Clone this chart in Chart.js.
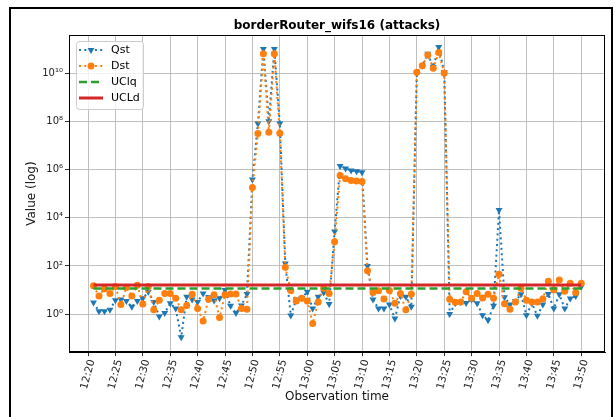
<!DOCTYPE html>
<html>
<head>
<meta charset="utf-8">
<script src="https://cdn.jsdelivr.net/npm/chart.js@4.4.0/dist/chart.umd.min.js"></script>
<style>
  html, body { margin: 0; padding: 0; background: #fff; }
  #wrap { position: relative; width: 615px; height: 417px; }
  #frame { position: absolute; left: 9px; top: 7px; width: 604px; height: 420px; border: 2px solid #000; box-sizing: border-box; pointer-events: none; }
</style>
</head>
<body>
<div id="wrap">
  <canvas id="chart" width="615" height="417"></canvas>
  <div id="frame"></div>
</div>
<script>
// x ticks (every 5 minutes) and first sample time; one sample per minute
const tickLabels = ['12:20', '12:25', '12:30', '12:35', '12:40', '12:45', '12:50', '12:55', '13:00',
    '13:05', '13:10', '13:15', '13:20', '13:25', '13:30', '13:35', '13:40', '13:45', '13:50'];
const firstSample = '12:21';
const yTickValues = [1, 1e2, 1e4, 1e6, 1e8, 1e10];

const qst = [3.0, 1.3, 1.3, 1.5, 3.8, 4.0, 3.5, 2.0, 3.5, 4.5,
    8.5, 3.2, 0.8, 1.1, 2.8, 1.7, 0.11, 5.2, 4.0, 3.2,
    7.2, 5.0, 3.7, 4.5, 10, 2.2, 1.1, 2.3, 6.8, 3.8e5,
    8e7, 1e11, 1e8, 1e11, 8e7, 125, 0.87, 4.0, 4.5, 8.5,
    1.7, 5.2, 7.9, 2.6, 2700, 1.4e6, 1.1e6, 9.1e5, 8.5e5, 7.6e5,
    100, 4.0, 1.7, 1.7, 2.5, 0.66, 5.6, 5.2, 2.0, 1.1e10,
    2e10, 6.3e10, 1.8e10, 1.2e11, 1.1e10, 1.0, 2.8, 3.2, 2.9, 4.0,
    2.8, 0.9, 0.56, 2.2, 2.1e4, 5.0, 2.5, 3.5, 6.6, 0.9,
    2.8, 0.85, 2.5, 6.8, 1.7, 6.6, 1.7, 4.4, 5.6, 13.8];

const dst = [15, 5.6, 11.2, 7.2, 14, 2.5, 12.6, 5.6, 15.8, 2.6,
    14, 1.5, 3.8, 7.2, 7.2, 4.5, 1.5, 2.3, 6.6, 1.7,
    0.52, 4.1, 6.3, 0.72, 6.3, 6.8, 6.8, 1.7, 1.6, 1.8e5,
    3.1e7, 6.3e10, 3.5e7, 6.3e10, 3.2e7, 89, 9.5, 3.5, 4.5, 3.5,
    0.41, 3.2, 11.7, 7.2, 1000, 5.6e5, 4.1e5, 3.5e5, 3.3e5, 3.2e5,
    63, 7.9, 9.3, 4.2, 9.5, 2.8, 7.2, 1.5, 6.8, 1.07e10,
    2e10, 5.6e10, 1.6e10, 7.1e10, 1e10, 4.1, 3.1, 3.2, 8.5, 4.5,
    7.1, 4.7, 6.6, 4.5, 45, 2.7, 1.6, 3.2, 11.7, 3.8,
    3.2, 3.2, 4.3, 23, 10, 26, 8.9, 19, 7.9, 19];

const uclQ = 11.5;
const uclD = 16;

// minutes since the first tick
function toMin(label) {
    const [h, m] = label.split(':').map(Number);
    const [h0, m0] = tickLabels[0].split(':').map(Number);
    return (h * 60 + m) - (h0 * 60 + m0);
}
const t0 = toMin(firstSample);
const asPoints = arr => arr.map((v, i) => ({ x: t0 + i, y: v }));
const tEnd = t0 + qst.length - 1;

const sup = { '0': '⁰', '1': '¹', '2': '²', '3': '³', '4': '⁴', '5': '⁵', '6': '⁶', '7': '⁷', '8': '⁸', '9': '⁹', '-': '⁻' };
const fmtPow = v => '10' + String(Math.round(Math.log10(v))).split('').map(c => sup[c]).join('');

Chart.defaults.font.family = '"DejaVu Sans", sans-serif';
Chart.defaults.color = '#111';

const frameBox = {
    id: 'frameBox',
    afterDatasetsDraw(chart) {
        const { ctx, chartArea: a } = chart;
        ctx.save();
        ctx.strokeStyle = '#000';
        ctx.lineWidth = 1;
        ctx.strokeRect(Math.round(a.left) + 0.5, Math.round(a.top) + 0.5,
            Math.round(a.right - a.left) - 1, Math.round(a.bottom - a.top) - 1);
        ctx.restore();
    }
};

const boxLegend = {
    id: 'boxLegend',
    afterDraw(chart) {
        const { ctx, chartArea: a } = chart;
        const sets = chart.data.datasets;
        const x0 = Math.round(a.left) + 7, y0 = Math.round(a.top) + 6;
        ctx.save();
        ctx.fillStyle = 'rgba(255,255,255,0.8)';
        ctx.strokeStyle = '#cccccc';
        ctx.lineWidth = 1;
        ctx.beginPath();
        ctx.roundRect(x0 + 0.5, y0 + 0.5, 67, 68, 3);
        ctx.fill();
        ctx.stroke();
        sets.forEach((ds, i) => {
            const y = y0 + 9 + i * 16;
            ctx.setLineDash(ds.borderDash || []);
            ctx.strokeStyle = ds.borderColor;
            ctx.lineWidth = ds.borderWidth;
            ctx.beginPath();
            ctx.moveTo(x0 + 3, y);
            ctx.lineTo(x0 + 27, y);
            ctx.stroke();
            ctx.setLineDash([]);
            if (ds.pointRadius > 0) {
                ctx.fillStyle = ds.pointBackgroundColor;
                Chart.helpers.drawPoint(ctx, {
                    pointStyle: ds.pointStyle, rotation: ds.pointRotation || 0,
                    radius: ds.pointRadius, borderWidth: 0
                }, x0 + 15, y);
            }
            ctx.fillStyle = '#000';
            ctx.font = '11px "DejaVu Sans"';
            ctx.textBaseline = 'middle';
            ctx.fillText(ds.label, x0 + 35, y + 0.5);
        });
        ctx.restore();
    }
};

new Chart(document.getElementById('chart'), {
    type: 'line',
    data: {
        datasets: [{
            label: 'Qst',
            data: asPoints(qst),
            borderColor: '#1f77b4',
            borderWidth: 2,
            borderDash: [2, 3.3],
            pointStyle: 'triangle',
            pointRotation: 180,
            pointRadius: 4,
            pointBorderWidth: 0,
            pointBackgroundColor: '#1f77b4',
            order: 3
        }, {
            label: 'Dst',
            data: asPoints(dst),
            borderColor: '#ff7f0e',
            borderWidth: 2,
            borderDash: [2, 3.3],
            pointStyle: 'circle',
            pointRadius: 3.5,
            pointBorderWidth: 0,
            pointBackgroundColor: '#ff7f0e',
            order: 2
        }, {
            label: 'UClq',
            data: [{ x: t0, y: uclQ }, { x: tEnd, y: uclQ }],
            borderColor: '#2ca02c',
            borderWidth: 2.5,
            borderDash: [8, 4],
            pointRadius: 0,
            order: 1
        }, {
            label: 'UCLd',
            data: [{ x: t0, y: uclD }, { x: tEnd, y: uclD }],
            borderColor: '#d62728',
            borderWidth: 3,
            pointRadius: 0,
            order: 0
        }]
    },
    options: {
        responsive: false,
        animation: false,
        layout: { padding: { left: 20, right: 10, top: 0, bottom: 7 } },
        elements: { line: { tension: 0, borderCapStyle: 'butt' } },
        plugins: {
            legend: { display: false },
            tooltip: { enabled: false },
            title: {
                display: true,
                text: 'borderRouter_wifs16 (attacks)',
                color: '#000',
                fullSize: false,
                font: { size: 12, weight: 'bold' },
                padding: { top: 19, bottom: 1.6 }
            }
        },
        scales: {
            x: {
                type: 'linear',
                min: -3.47,
                max: 94.34,
                afterFit: s => { s.height = 57.8; },
                afterBuildTicks: s => { s.ticks = tickLabels.map(l => ({ value: toMin(l) })); },
                ticks: {
                    autoSkip: false,
                    minRotation: 75,
                    maxRotation: 75,
                    labelOffset: 4,
                    padding: 2,
                    font: { size: 10.5 },
                    color: '#222',
                    callback: (v, i) => tickLabels[i]
                },
                grid: { color: '#b0b0b0', lineWidth: 0.8, tickColor: '#000', tickLength: 4 },
                border: { color: '#000', width: 1 },
                title: { display: true, text: 'Observation time', color: '#111', font: { size: 12 }, padding: { top: 0, bottom: 6 } }
            },
            y: {
                type: 'logarithmic',
                min: 0.0263,
                max: 3.8e11,
                afterFit: s => { s.width = 49; },
                afterBuildTicks: s => { s.ticks = yTickValues.map(v => ({ value: v })); },
                ticks: {
                    padding: 2,
                    font: { size: 10 },
                    color: '#222',
                    callback: v => fmtPow(v)
                },
                grid: { color: '#b0b0b0', lineWidth: 0.8, tickColor: '#000', tickLength: 4 },
                border: { color: '#000', width: 1 },
                title: { display: true, text: 'Value (log)', color: '#111', font: { size: 12 }, padding: { top: 5, bottom: 0 } }
            }
        }
    },
    plugins: [frameBox, boxLegend]
});
</script>
</body>
</html>
